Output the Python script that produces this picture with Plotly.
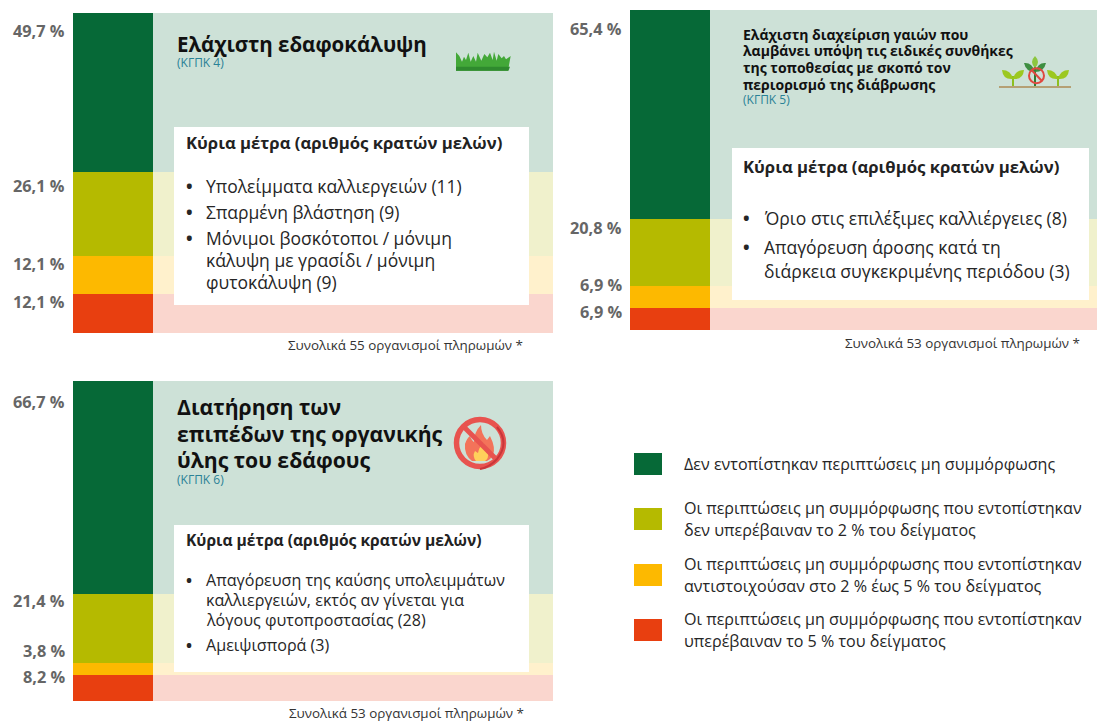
import plotly.graph_objects as go

W, H = 1097, 722
FONT = "Open Sans"

status_labels = [
    "Δεν εντοπίστηκαν περιπτώσεις μη συμμόρφωσης",
    "Οι περιπτώσεις μη συμμόρφωσης που εντοπίστηκαν δεν υπερέβαιναν το 2 % του δείγματος",
    "Οι περιπτώσεις μη συμμόρφωσης που εντοπίστηκαν αντιστοιχούσαν στο 2 % έως 5 % του δείγματος",
    "Οι περιπτώσεις μη συμμόρφωσης που εντοπίστηκαν υπερέβαιναν το 5 % του δείγματος",
]
gaec4_values = [49.7, 26.1, 12.1, 12.1]
gaec5_values = [65.4, 20.8, 6.9, 6.9]
gaec6_values = [66.7, 21.4, 3.8, 8.2]
dark_colors = ["#066937", "#B5BA00", "#FDB900", "#E83F10"]
light_colors = ["#CDE1D7", "#F0F1CC", "#FFF1CC", "#FAD6CE"]


def px(x):
    return x / W


def py(y):
    return 1 - y / H


fig = go.Figure()
annotations, shapes = [], []


def txt(x, y, text, size, color="#262626", bold=False, anchor="left"):
    annotations.append(dict(
        x=px(x), y=py(y - 1), xref="paper", yref="paper", text=text, showarrow=False,
        xanchor=anchor, yanchor="middle", align=anchor, borderpad=0, borderwidth=0,
        font=dict(family=FONT, size=size, color=color, weight=700 if bold else 400),
    ))


def panel(idx, values, x0, x1, y0, y1):
    xa, ya = f"x{idx}", f"y{idx}"
    total = sum(values)
    rest = (x1 - x0) / 80 - 1
    for v, d, l, name in zip(values, dark_colors, light_colors, status_labels):
        fig.add_bar(x=[0], y=[v], width=[1], offset=0, marker=dict(color=d, line_width=0),
                    xaxis=xa, yaxis=ya, name=name, showlegend=False)
        fig.add_bar(x=[1], y=[v], width=[rest], offset=0, marker=dict(color=l, line_width=0),
                    xaxis=xa, yaxis=ya, name=name, showlegend=False, hoverinfo="skip")
    sx = "" if idx == 1 else idx
    fig.layout[f"xaxis{sx}"] = dict(domain=[px(x0), px(x1)], range=[0, 1 + rest], visible=False,
                                    anchor=ya, fixedrange=True)
    fig.layout[f"yaxis{sx}"] = dict(domain=[py(y1), py(y0)], range=[total, 0], visible=False,
                                    anchor=xa, fixedrange=True)


panel(1, gaec4_values, 73, 553, 13, 333)
panel(2, gaec5_values, 630, 1097, 10, 330)
panel(3, gaec6_values, 73, 553, 381, 701)

# legend swatches, drawn on their own category axis
fig.add_bar(x=[1, 1, 1, 1], y=status_labels, orientation="h", width=0.4,
            marker=dict(color=dark_colors, line_width=0), xaxis="x4", yaxis="y4",
            showlegend=False, hoverinfo="skip")
fig.layout["xaxis4"] = dict(domain=[px(634), px(662)], range=[0, 1], visible=False, anchor="y4", fixedrange=True)
fig.layout["yaxis4"] = dict(domain=[py(657.7), py(436.3)], range=[3.5, -0.5], visible=False, anchor="x4",
                            fixedrange=True, type="category", categoryorder="array", categoryarray=status_labels)


def fmt(v):
    return f"{v:.1f}".replace(".", ",") + " %"


GRAY = "#666666"
PCT = 16.3
for v, y in zip(gaec4_values, [32, 187, 265, 303]):
    txt(65, y, fmt(v), PCT, GRAY, True, "right")
for v, y in zip(gaec5_values, [30, 229, 286, 313]):
    txt(622, y, fmt(v), PCT, GRAY, True, "right")
for v, y in zip(gaec6_values, [403, 602, 652, 678]):
    txt(65, y, fmt(v), PCT, GRAY, True, "right")


def box(x0, y0, x1, y1):
    shapes.append(dict(type="rect", xref="paper", yref="paper", x0=px(x0), x1=px(x1), y0=py(y0), y1=py(y1),
                       fillcolor="white", line_width=0, layer="above"))


box(174, 127, 529, 305)
box(732, 148, 1089, 300)
box(174, 525, 529, 672)

TEAL = "#2A8296"
BLACK = "#111111"
BODY = 17.5
HEAD = 16.7
FOOT = 13.4
TAG = 12

# panel 1
txt(177, 45, "Ελάχιστη εδαφοκάλυψη", 20.5, BLACK, True)
txt(177, 64, "(ΚΓΠΚ 4)", TAG, TEAL)
txt(186, 143, "Κύρια μέτρα (αριθμός κρατών μελών)", HEAD, "#222222", True)
for y in (187, 213, 239):
    txt(186, y, "•", BODY, "#262626", True)
for y, s in zip((187, 213, 239, 261, 283), (
        "Υπολείμματα καλλιεργειών (11)", "Σπαρμένη βλάστηση (9)", "Μόνιμοι βοσκότοποι / μόνιμη",
        "κάλυψη με γρασίδι / μόνιμη", "φυτοκάλυψη (9)")):
    txt(206, y, s, BODY)
txt(523, 346, "Συνολικά 55 οργανισμοί πληρωμών *", FOOT, "#333333", False, "right")

# panel 2
for y, s in zip((36, 52, 69, 85), (
        "Ελάχιστη διαχείριση γαιών που", "λαμβάνει υπόψη τις ειδικές συνθήκες",
        "της τοποθεσίας με σκοπό τον", "περιορισμό της διάβρωσης")):
    txt(743, y, s, 14, BLACK, True)
txt(743, 100, "(ΚΓΠΚ 5)", TAG, TEAL)
txt(743, 167, "Κύρια μέτρα (αριθμός κρατών μελών)", HEAD, "#222222", True)
for y in (219, 248):
    txt(743, y, "•", BODY, "#262626", True)
for y, s in zip((219, 248, 272), (
        "Όριο στις επιλέξιμες καλλιέργειες (8)", "Απαγόρευση άροσης κατά τη",
        "διάρκεια συγκεκριμένης περιόδου (3)")):
    txt(764, y, s, BODY)
txt(1080, 344, "Συνολικά 53 οργανισμοί πληρωμών *", FOOT, "#333333", False, "right")

# panel 3
for y, s in zip((408, 434, 460), ("Διατήρηση των", "επιπέδων της οργανικής", "ύλης του εδάφους")):
    txt(177, y, s, 21.2, BLACK, True)
txt(177, 480, "(ΚΓΠΚ 6)", TAG, TEAL)
txt(186, 541, "Κύρια μέτρα (αριθμός κρατών μελών)", 15.6, "#222222", True)
for y in (581, 646):
    txt(186, y, "•", 16.1, "#262626", True)
for y, s in zip((581, 601, 621, 646), (
        "Απαγόρευση της καύσης υπολειμμάτων", "καλλιεργειών, εκτός αν γίνεται για",
        "λόγους φυτοπροστασίας (28)", "Αμειψισπορά (3)")):
    txt(206, y, s, 16.1)
txt(524, 714, "Συνολικά 53 οργανισμοί πληρωμών *", FOOT, "#333333", False, "right")

# legend text
LEG = 16.1
for y, s in zip((465, 509, 531, 565, 587, 620, 642), (
        status_labels[0],
        "Οι περιπτώσεις μη συμμόρφωσης που εντοπίστηκαν", "δεν υπερέβαιναν το 2 % του δείγματος",
        "Οι περιπτώσεις μη συμμόρφωσης που εντοπίστηκαν", "αντιστοιχούσαν στο 2 % έως 5 % του δείγματος",
        "Οι περιπτώσεις μη συμμόρφωσης που εντοπίστηκαν", "υπερέβαιναν το 5 % του δείγματος")):
    txt(684, y, s, LEG)


# decorative icons, in pixel coordinates
def path(cmds, fill=None, line=None, lw=0):
    out = []
    for c in cmds:
        op, pts = c[0], c[1:]
        out.append(op + " " + " ".join(
            f"{px(pts[i]):.5f},{py(pts[i + 1]):.5f}" for i in range(0, len(pts), 2)))
    shapes.append(dict(type="path", xref="paper", yref="paper", path=" ".join(out) + (" Z" if fill else ""),
                       fillcolor=fill or "rgba(0,0,0,0)", line=dict(color=line or "rgba(0,0,0,0)", width=lw),
                       layer="above"))


def circle(cx, cy, r, line, lw):
    shapes.append(dict(type="circle", xref="paper", yref="paper", x0=px(cx - r), x1=px(cx + r),
                       y0=py(cy + r), y1=py(cy - r), line=dict(color=line, width=lw),
                       fillcolor="rgba(0,0,0,0)", layer="above"))


def z(x, y, ox, oy):
    return ox + x / 3, oy + y / 3


grass = [(48, 92), (48, 37), (58, 48), (66, 65), (72, 50), (78, 60), (85, 38), (92, 65), (100, 48), (108, 65),
         (113, 38), (124, 62), (133, 42), (142, 52), (150, 38), (158, 60), (162, 35), (170, 62), (175, 42),
         (185, 55), (192, 48), (198, 58), (212, 48), (204, 92)]
cmds = [("M" if i == 0 else "L",) + z(a, b, 440, 40) for i, (a, b) in enumerate(grass)]
path(cmds, "#43A838")
path([("M", 456, 66.7), ("L", 510, 66.7), ("L", 508.5, 70.7), ("L", 456, 70.7)], "#2F8A2E")

path([("M", 999, 86), ("L", 1071, 86), ("L", 1071, 88), ("L", 999, 88)], "#B5A074")
for cx in (1013, 1058):
    path([("M", cx - 1, 76), ("L", cx + 1, 76), ("L", cx + 1, 86), ("L", cx - 1, 86)], "#8DBF1F")
    path([("M", cx, 79), ("Q", cx - 10, 80, cx - 11, 70), ("Q", cx - 2, 70, cx, 79)], "#9CC820")
    path([("M", cx, 79), ("Q", cx + 10, 80, cx + 11, 70), ("Q", cx + 2, 70, cx, 79)], "#9CC820")
path([("M", 1034, 66), ("L", 1036, 66), ("L", 1036, 86), ("L", 1034, 86)], "#2E7D32")
path([("M", 1035, 72), ("Q", 1026, 72, 1024, 63), ("Q", 1032, 62, 1035, 72)], "#3E8E41")
path([("M", 1035, 72), ("Q", 1044, 72, 1046, 63), ("Q", 1038, 62, 1035, 72)], "#3E8E41")
path([("M", 1035, 68), ("Q", 1029, 62, 1035, 56), ("Q", 1041, 62, 1035, 68)], "#8CC63F")
circle(1036.5, 75.7, 7.5, "#E0483F", 2)
path([("M", 1031.5, 70), ("L", 1042, 81)], None, "#E0483F", 2)

path([("M", 472, 461), ("Q", 464, 455, 465, 444), ("Q", 467, 438, 470, 436), ("Q", 472, 441, 474, 442),
      ("Q", 474, 432, 481, 425), ("Q", 481, 434, 487, 440), ("L", 490, 436), ("Q", 496, 448, 493, 455),
      ("Q", 491, 459, 487, 461)], "#F3735A")
path([("M", 476, 461), ("Q", 472, 456, 475, 451), ("L", 478, 453), ("Q", 479, 447, 484, 443),
      ("Q", 484, 449, 488, 453), ("Q", 489, 458, 485, 461)], "#FFD05B")
path([("M", 463, 426), ("L", 497, 460)], None, "#E8534F", 5)
circle(480, 443, 23.5, "#E8534F", 5.5)
path([("M", 497, 427), ("Q", 510, 443, 497, 459), ("Q", 490, 467, 480, 469)], None, "#C9363A", 2)

fig.update_layout(
    width=W, height=H, margin=dict(l=0, r=0, t=0, b=0), paper_bgcolor="white", plot_bgcolor="rgba(0,0,0,0)",
    barmode="stack", showlegend=False, annotations=annotations, shapes=shapes,
    font=dict(family=FONT),
)
fig.write_html("out.html", config={"displayModeBar": False},
               post_script="document.body.style.margin='0';document.documentElement.style.overflow='hidden';")
